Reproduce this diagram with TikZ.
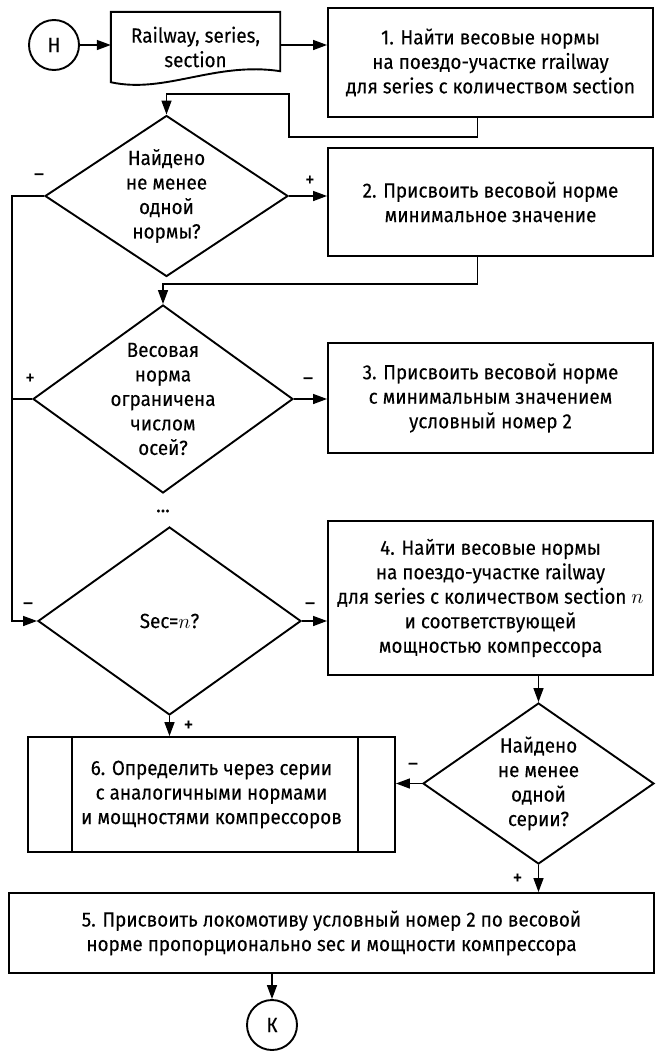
\documentclass[tikz,border=0pt]{standalone}
\usepackage{fontspec}
\setmainfont{Fira Sans}[FakeStretch=0.92, FakeBold=0.15]
\usetikzlibrary{shapes.geometric,arrows.meta,positioning}

\tikzset{
  block/.style={draw, rectangle, line width=1.9pt, align=center, inner sep=0pt},
  decision/.style={draw, diamond, line width=1.9pt, inner sep=0pt},
  terminal/.style={draw, circle, line width=1.9pt, minimum size=50pt, inner sep=0pt},
  flow/.style={line width=1.4pt, -{Triangle[length=14pt,width=10pt]}},
  link/.style={line width=1.4pt},
  sign/.style={inner sep=0pt},
}

\begin{document}
\begin{tikzpicture}[x=1pt, y=-1pt, font=\fontsize{20.5}{24.5}\selectfont]
    \useasboundingbox (0,0) rectangle (656,1055);

    \node[terminal] (start) at (54,45) {Н};
    \node[inner sep=0pt, minimum width=169pt, minimum height=70pt, align=center] (input) at (195.5,47) {Railway, series,\\section};
    \draw[line width=1.9pt] (input.north west) -- (input.north east) -- ([yshift=11pt]input.south east)
        .. controls ([xshift=-65pt,yshift=21pt]input.south east) and ([xshift=54pt,yshift=-12pt]input.south west) .. (input.south west) -- cycle;

    \node[block, minimum width=325pt, minimum height=109pt] (b1) at (490.5,62.5) {1. Найти весовые нормы\\на поездо-участке rrailway\\для series с количеством section};
    \node[decision, minimum width=243pt, minimum height=161pt,
          label={[align=center]center:{Найдено\\не менее\\одной\\нормы?}}] (d1) at (166.5,196) {};
    \node[block, minimum width=325pt, minimum height=108pt] (b2) at (490.5,202) {2. Присвоить весовой норме\\минимальное значение};
    \node[decision, minimum width=260pt, minimum height=188pt,
          label={[align=center]center:{Весовая\\норма\\ограничена\\числом\\осей?}}] (d2) at (163,399) {};
    \node[block, minimum width=325pt, minimum height=110pt] (b3) at (490.5,398) {3. Присвоить весовой норме\\с минимальным значением\\условный номер 2};
    \node (dots) at (163,511) {...};
    \node[decision, minimum width=263pt, minimum height=188pt,
          label={center:Sec=$n$?}] (d3) at (169.5,621) {};
    \node[block, minimum width=325pt, minimum height=154pt] (b4) at (490.5,598) {4. Найти весовые нормы\\на поездо-участке railway\\для series с количеством section $n$\\и соответствующей\\мощностью компрессора};
    \node[block, minimum width=367pt, minimum height=115pt] (b6) at (211.5,794.5) {6. Определить через серии\\с аналогичными нормами\\и мощностями компрессоров};
    \draw[line width=1.9pt] ([xshift=45pt]b6.north west) -- ([xshift=45pt]b6.south west);
    \draw[line width=1.9pt] ([xshift=-38pt]b6.north east) -- ([xshift=-38pt]b6.south east);
    \node[decision, minimum width=231pt, minimum height=161pt,
          label={[align=center]center:{Найдено\\не менее\\одной\\серии?}}] (d4) at (538.5,783.5) {};
    \node[block, minimum width=645pt, minimum height=80pt] (b5) at (331.5,933) {5. Присвоить локомотиву условный номер 2 по весовой\\норме пропорционально sec и мощности компрессора};
    \node[terminal] (finish) at (272,1025) {К};

    \coordinate (turn) at (289,94);
    \coordinate (rail) at (12,197);

    \draw[flow] (start.east) -- (start.east -| input.west);
    \draw[flow] (input.east |- start) -- (b1.west |- start);
    \draw[flow] ([xshift=-13pt]b1.south) -- ++(0,19) -| (turn) -| (d1.north);
    \draw[flow] (d1.east) -- (d1.east -| b2.west);
    \draw[flow] ([xshift=-13pt]b2.south) -- ++(0,27) -| (d2.north);
    \draw[flow] (d1.west) -- (d1.west -| rail) |- (d3.west);
    \draw[link] (d2.west) -- (d2.west -| rail);
    \draw[flow] (d2.east) -- (d2.east -| b3.west);
    \draw[flow] (d3.east) -- (d3.east -| b4.west);
    \draw[flow] (d3.south) -- (d3.south |- b6.north);
    \draw[flow] (d4.north |- b4.south) -- (d4.north);
    \draw[flow] (d4.west) -- (d4.west -| b6.east);
    \draw[flow] (d4.south) -- (d4.south |- b5.north);
    \draw[flow] (b5.south -| finish) -- (finish);

    \node[sign] at ([shift={(-5,-19)}]d1.west) {--};
    \node[sign] at ([shift={(21,-15)}]d1.east) {+};
    \node[sign] at ([shift={(-2,-20)}]d2.west) {+};
    \node[sign] at ([shift={(14,-18)}]d2.east) {--};
    \node[sign] at ([shift={(-9,-15)}]d3.west) {--};
    \node[sign] at ([shift={(8,-15)}]d3.east) {--};
    \node[sign] at ([shift={(19,10)}]d3.south) {+};
    \node[sign] at ([shift={(-9,-17)}]d4.west) {--};
    \node[sign] at ([shift={(-21,14)}]d4.south) {+};
\end{tikzpicture}
\end{document}
